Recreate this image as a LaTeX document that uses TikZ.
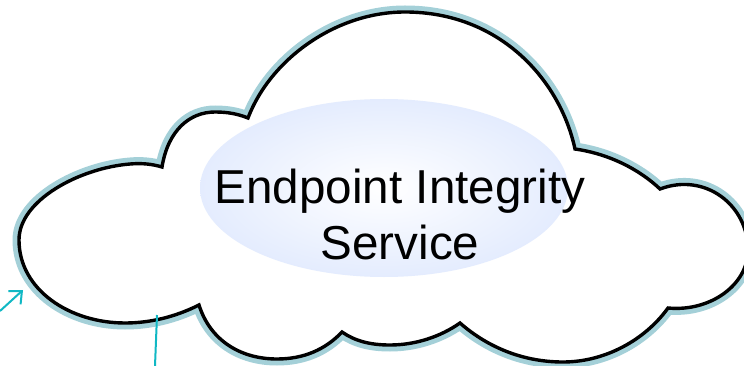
\documentclass[tikz,border=0pt]{standalone}
\usepackage{fontspec}
\setmainfont{Liberation Sans}
\usetikzlibrary{arrows.meta,shapes.geometric}
\definecolor{cloudglow}{HTML}{A4D0D8}
\definecolor{pointer}{HTML}{10B8C4}
\definecolor{blobout}{HTML}{E4ECFE}
\definecolor{blobin}{HTML}{FFFFFF}
\newcommand{\cloudpath}{
(199,305) .. controls (175,317) and (150,323) .. (125,323)
.. controls (70,323) and (19,290) .. (19,240)
.. controls (19,200) and (80,168) .. (130,164)
.. controls (142,163) and (152,164) .. (162,167)
.. controls (168,130) and (190,112) .. (215,112)
.. controls (228,112) and (238,114) .. (248,118)
.. controls (270,60) and (335,12) .. (405,12)
.. controls (500,12) and (560,80) .. (575,149)
.. controls (610,154) and (640,170) .. (660,189)
.. controls (705,172) and (748,205) .. (748,250)
.. controls (748,285) and (710,312) .. (668,308)
.. controls (645,340) and (605,362) .. (563,362)
.. controls (520,362) and (485,345) .. (460,323)
.. controls (440,337) and (415,345) .. (390,345)
.. controls (370,345) and (355,341) .. (342,332)
.. controls (325,350) and (303,359) .. (277,359)
.. controls (240,359) and (210,340) .. (199,305)
-- cycle}
\tikzset{
  glow/.style={draw=cloudglow,line width=13pt,line join=round},
  outline/.style={draw=black,line width=3.4pt,line join=miter},
  pointerline/.style={draw=pointer,line width=2pt},
  blob/.style={ellipse,minimum width=368pt,minimum height=178pt,inner sep=0pt,inner color=blobin,outer color=blobout},
  label/.style={align=center,font=\fontsize{47.6}{56}\selectfont,inner sep=0pt}
}
\begin{document}
\begin{tikzpicture}[x=1pt,y=-1pt]
\clip (0,0) rectangle (744,366);
\fill[white] (0,0) rectangle (744,366);
\path[glow] \cloudpath;
\fill[white] \cloudpath;
\draw[outline] \cloudpath;
\node[blob] (service) at (384,188) {};
\node[label] (servicetext) at (400,214) {Endpoint Integrity\\Service};
% two pointers coming in from outside
\coordinate (arrowstart) at (0,311);
\coordinate (arrowtip) at (23,290);
\coordinate (linetop) at (157,315);
\coordinate (linebottom) at (155,366);
\draw[pointerline,-{Straight Barb[length=10pt,width=18pt]}] (arrowstart) -- (arrowtip);
\draw[pointerline] (linetop) -- (linebottom);
\end{tikzpicture}
\end{document}
